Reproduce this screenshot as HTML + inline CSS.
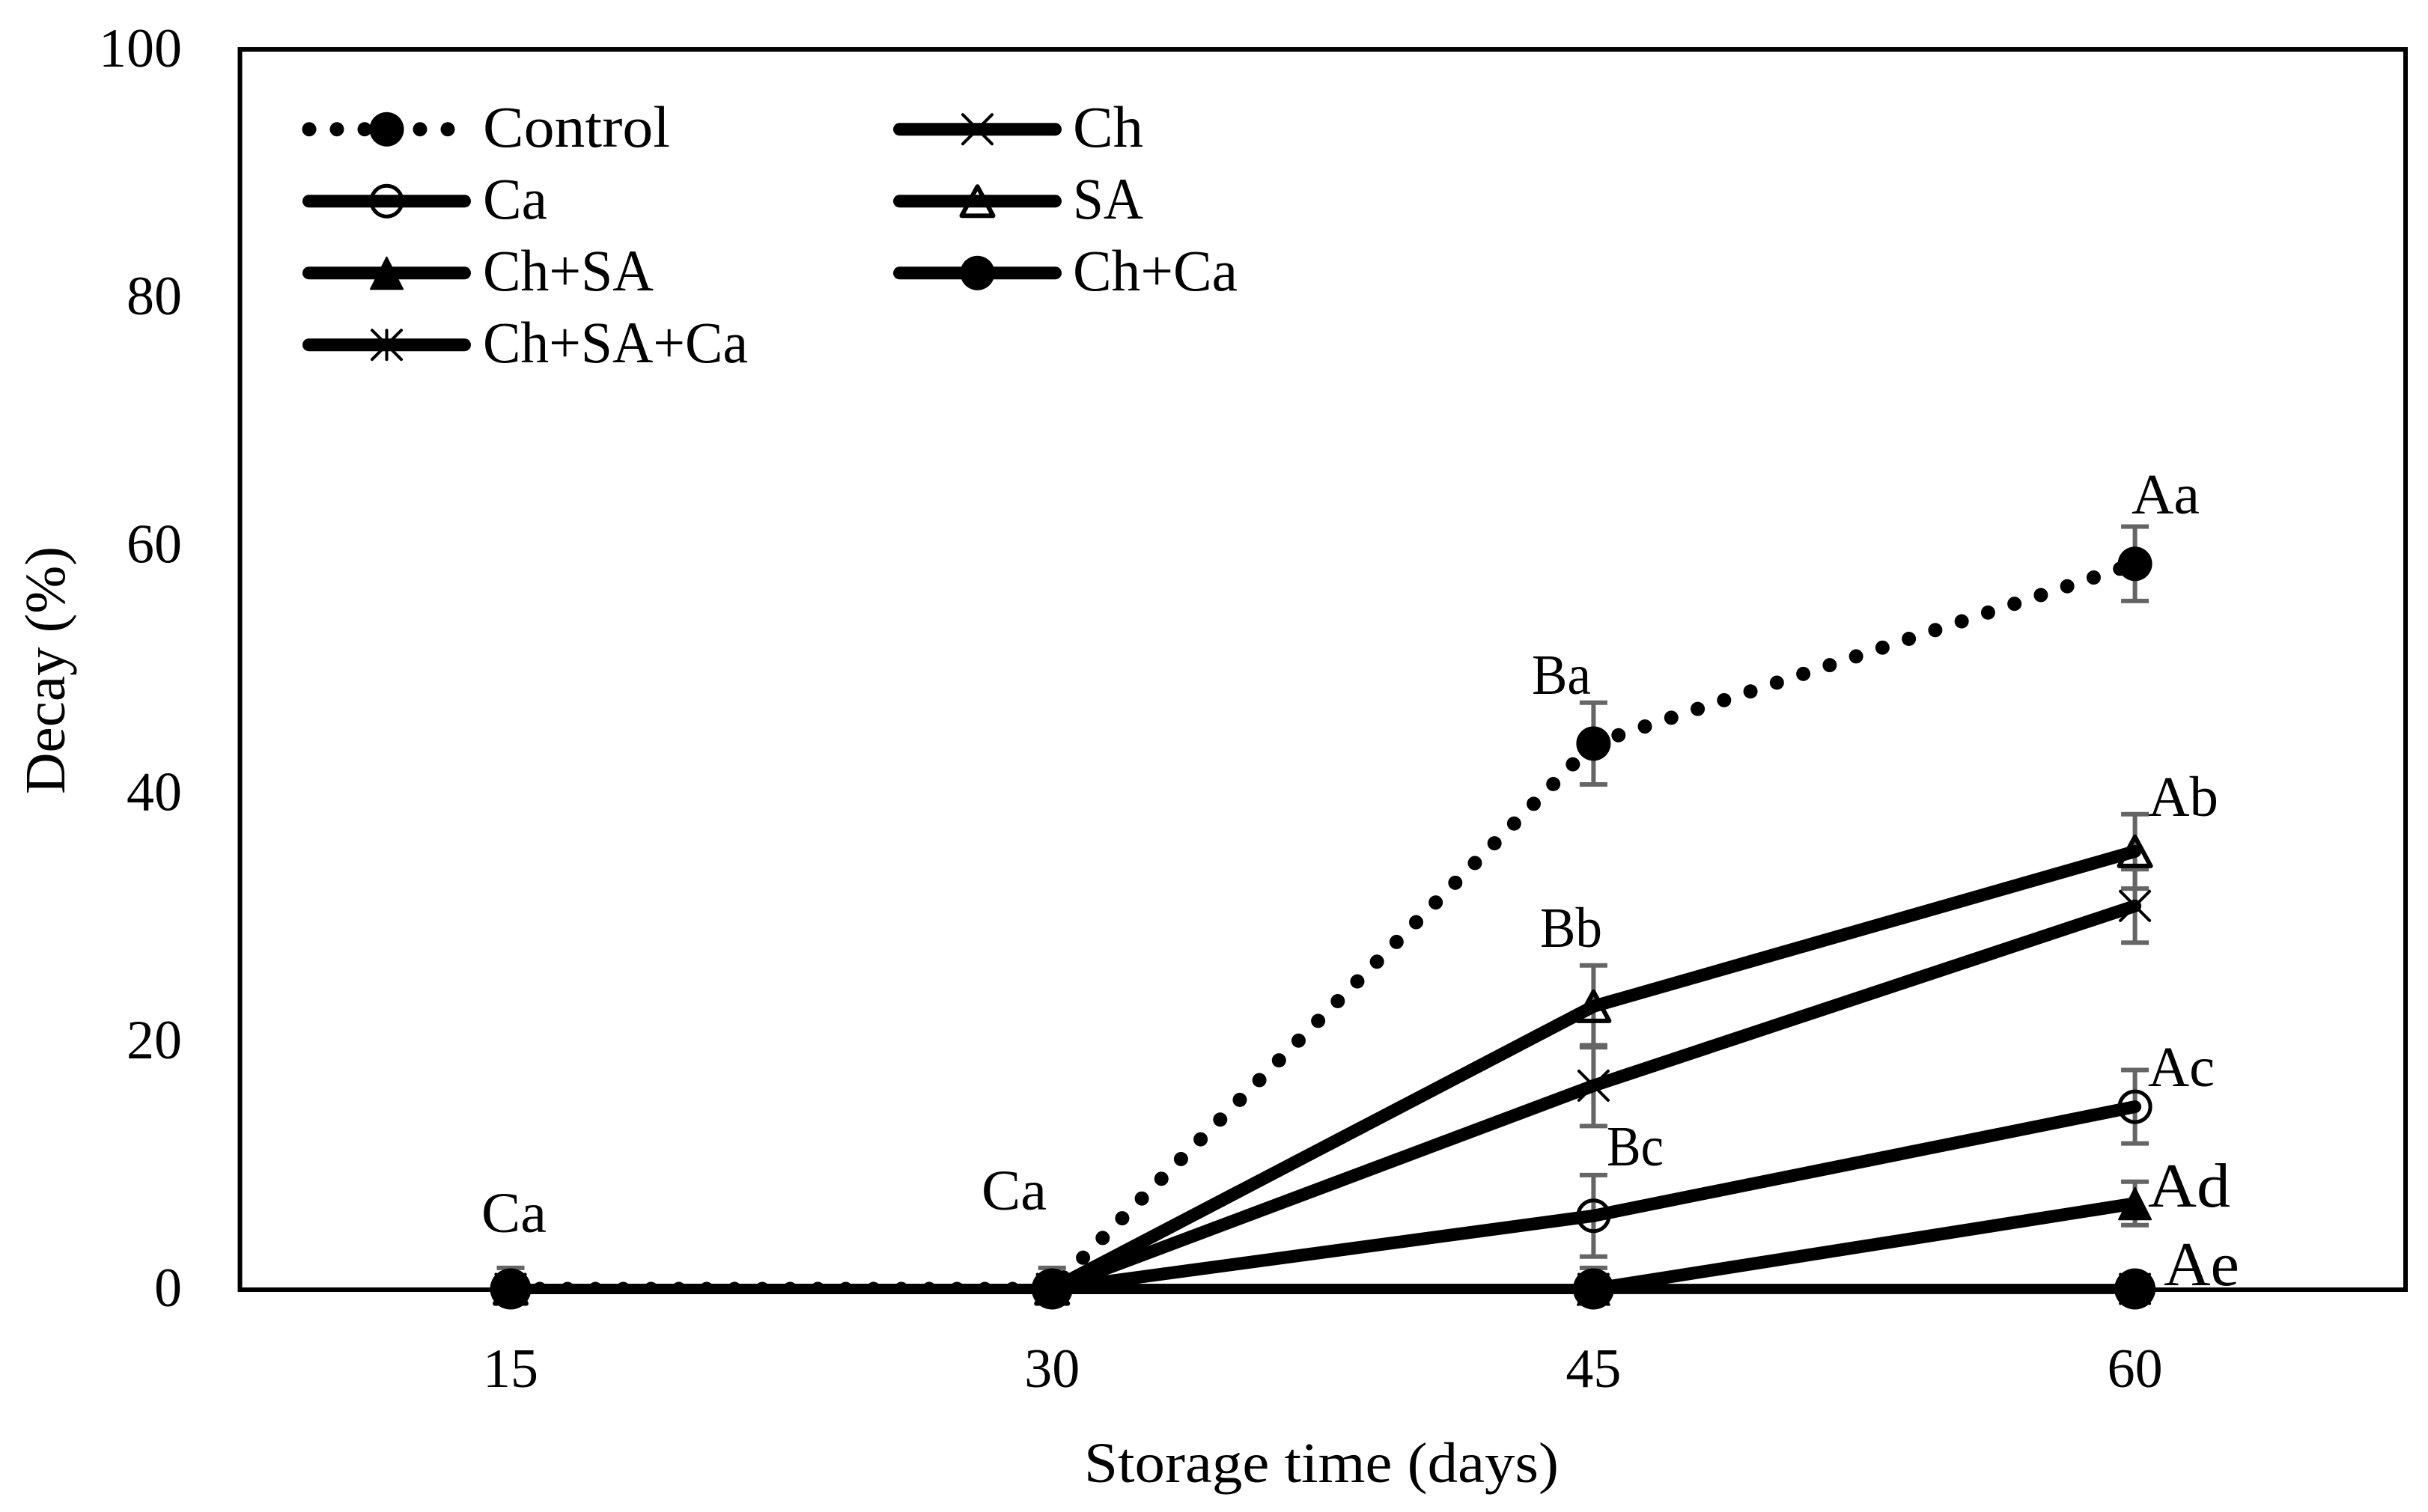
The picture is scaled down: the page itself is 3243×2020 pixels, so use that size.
<!DOCTYPE html>
<html lang="en">
<head>
<meta charset="utf-8">
<title>Decay (%) over storage time</title>
<style>
html,body{margin:0;padding:0;background:#fff;}
#chart{display:block;width:3243px;height:2020px;}
text{font-family:"Liberation Serif",serif;fill:#000;}
</style>
</head>
<body>
<svg id="chart" xmlns="http://www.w3.org/2000/svg" width="3243" height="2020" viewBox="0 0 3243 2020">
  <defs>
    <clipPath id="above-baseline"><rect x="0" y="0" width="3243" height="1722"/></clipPath>
  </defs>
  <rect x="0" y="0" width="3243" height="2020" fill="#fff"/>
  <rect x="320.5" y="66" width="2892.5" height="1657" fill="none" stroke="#000" stroke-width="6"/>
  <g id="y-ticks"></g>
  <g id="x-ticks"></g>
  <g id="errors"></g>
  <g id="series"></g>
  <g id="legend">
    <text x="645" y="196" font-size="78" textLength="250" lengthAdjust="spacingAndGlyphs">Control</text>
    <text x="1433" y="196" font-size="78" textLength="94" lengthAdjust="spacingAndGlyphs">Ch</text>
    <text x="645" y="292" font-size="78" textLength="86" lengthAdjust="spacingAndGlyphs">Ca</text>
    <text x="1433" y="292" font-size="78" textLength="94" lengthAdjust="spacingAndGlyphs">SA</text>
    <text x="645" y="388" font-size="78" textLength="228" lengthAdjust="spacingAndGlyphs">Ch+SA</text>
    <text x="1433" y="388" font-size="78" textLength="220" lengthAdjust="spacingAndGlyphs">Ch+Ca</text>
    <text x="645" y="484" font-size="78" textLength="354" lengthAdjust="spacingAndGlyphs">Ch+SA+Ca</text>
  </g>
  <g id="annotations" font-size="76">
    <text x="643" y="1646" textLength="87" lengthAdjust="spacingAndGlyphs">Ca</text>
    <text x="1311" y="1616" textLength="87" lengthAdjust="spacingAndGlyphs">Ca</text>
    <text x="2046" y="927" textLength="79" lengthAdjust="spacingAndGlyphs">Ba</text>
    <text x="2057" y="1265" textLength="83" lengthAdjust="spacingAndGlyphs">Bb</text>
    <text x="2146" y="1557" textLength="76" lengthAdjust="spacingAndGlyphs">Bc</text>
    <text x="2847" y="686" textLength="91" lengthAdjust="spacingAndGlyphs">Aa</text>
    <text x="2869" y="1090" textLength="94" lengthAdjust="spacingAndGlyphs">Ab</text>
    <text x="2869" y="1451" textLength="89" lengthAdjust="spacingAndGlyphs">Ac</text>
    <text x="2869" y="1612" font-size="84" textLength="110" lengthAdjust="spacingAndGlyphs">Ad</text>
    <text x="2890" y="1717" font-size="84" textLength="101" lengthAdjust="spacingAndGlyphs">Ae</text>
  </g>
  <text x="1448" y="1980" font-size="76" textLength="634" lengthAdjust="spacingAndGlyphs">Storage time (days)</text>
  <text transform="translate(86 1061) rotate(-90)" x="0" y="0" font-size="76" textLength="331" lengthAdjust="spacingAndGlyphs">Decay (%)</text>
</svg>
<script>
const days = ['15', '30', '45', '60'];
const yTickLabels = [0, 20, 40, 60, 80, 100];

const controlValues = [0, 0, 44, 58.5];
const chValues = [0, 0, 16.4, 30.9];
const caValues = [0, 0, 5.9, 14.7];
const saValues = [0, 0, 22.8, 35.3];
const chSaValues = [0, 0, 0, 6.9];
const chCaValues = [0, 0, 0, 0];
const chSaCaValues = [0, 0, 0, 0];

const controlErrors = [1.7, 1.7, 3.3, 3];
const chErrors = [0, 0, 3.26, 2.96];
const caErrors = [0, 0, 3.29, 2.96];
const saErrors = [0, 0, 3.3, 3];
const chSaErrors = [0, 0, 1.7, 1.75];

const SVG_NS = 'http://www.w3.org/2000/svg';
function xScale(i) { return 682 + 723.2 * i; }
function yScale(v) { return 1722 - 16.56 * v; }

function make(parent, tag, attrs) {
  const el = document.createElementNS(SVG_NS, tag);
  for (const k in attrs) el.setAttribute(k, attrs[k]);
  parent.appendChild(el);
  return el;
}

function drawMarker(parent, kind, cx, cy, name) {
  const g = make(parent, 'g', {});
  
  
  if (kind === 'solid-circle') {
    make(g, 'circle', { cx: cx, cy: cy, r: 23, fill: '#000' });
  } else if (kind === 'big-circle') {
    make(g, 'circle', { cx: cx, cy: cy, r: 27.5, fill: '#000' });
  } else if (kind === 'open-circle') {
    make(g, 'circle', { cx: cx, cy: cy, r: 20.5, fill: 'none', stroke: '#000', 'stroke-width': 5 });
  } else if (kind === 'open-triangle') {
    make(g, 'polygon', { points: cx + ',' + (cy - 19.5) + ' ' + (cx + 21) + ',' + (cy + 19.5) + ' ' + (cx - 21) + ',' + (cy + 19.5), fill: 'none', stroke: '#000', 'stroke-width': 6, 'stroke-linejoin': 'round' });
  } else if (kind === 'solid-triangle') {
    make(g, 'polygon', { points: cx + ',' + (cy - 21) + ' ' + (cx + 21.5) + ',' + (cy + 21.5) + ' ' + (cx - 21.5) + ',' + (cy + 21.5), fill: '#000', stroke: '#000', 'stroke-width': 2, 'stroke-linejoin': 'round' });
  } else if (kind === 'cross' || kind === 'star') {
    const r = 19.5;
    make(g, 'line', { x1: cx - r, y1: cy - r, x2: cx + r, y2: cy + r, stroke: '#000', 'stroke-width': 4, 'stroke-linecap': 'round' });
    make(g, 'line', { x1: cx - r, y1: cy + r, x2: cx + r, y2: cy - r, stroke: '#000', 'stroke-width': 4, 'stroke-linecap': 'round' });
    if (kind === 'star') {
      make(g, 'line', { x1: cx, y1: cy - r, x2: cx, y2: cy + r, stroke: '#000', 'stroke-width': 4, 'stroke-linecap': 'round' });
    }
  }
}

const yTicksGroup = document.getElementById('y-ticks');
yTickLabels.forEach(function (t) {
  const el = make(yTicksGroup, 'text', { x: 243, y: yScale(t) + 23, 'font-size': 74, 'text-anchor': 'end' });
  
  
  el.textContent = t;
});

const xTicksGroup = document.getElementById('x-ticks');
days.forEach(function (d, i) {
  const el = make(xTicksGroup, 'text', { x: xScale(i), y: 1853, 'font-size': 74, 'text-anchor': 'middle' });
  
  
  el.textContent = d;
});

const errorGroup = document.getElementById('errors');
function drawErrors(values, errors, name) {
  values.forEach(function (v, i) {
    const e = errors[i];
    if (!e) return;
    const x = xScale(i);
    const capHalf = 18.5;
    const hi = yScale(v + e);
    const lo = yScale(Math.max(v - e, 0));
    const g = make(errorGroup, 'g', { stroke: '#656565' });
    
    
    make(g, 'line', { x1: x, y1: hi, x2: x, y2: lo, 'stroke-width': 6 });
    make(g, 'line', { x1: x - capHalf, y1: hi, x2: x + capHalf, y2: hi, 'stroke-width': 6 });
    if (v - e > 0) {
      make(g, 'line', { x1: x - capHalf, y1: lo, x2: x + capHalf, y2: lo, 'stroke-width': 6 });
    }
  });
}
drawErrors(controlValues, controlErrors, 'control');
drawErrors(saValues, saErrors, 'sa');
drawErrors(chValues, chErrors, 'ch');
drawErrors(caValues, caErrors, 'ca');
drawErrors(chSaValues, chSaErrors, 'ch-sa');

const seriesGroup = document.getElementById('series');
function drawSeries(values, kind, name, dotted) {
  const g = make(seriesGroup, 'g', {});
  
  
  if (dotted) {
    const pts = values.map(function (v, i) { return xScale(i) + ',' + yScale(v); }).join(' ');
    const line = make(g, 'polyline', { points: pts, fill: 'none', stroke: '#000', 'stroke-width': 19, 'stroke-linecap': 'round', 'stroke-dasharray': '0 37.15', 'stroke-dashoffset': 35.35, 'clip-path': 'url(#above-baseline)' });
    
    
  } else {
    for (let i = 0; i < values.length - 1; i++) {
      const flatAtZero = values[i] === 0 && values[i + 1] === 0;
      const seg = make(g, 'line', {
        x1: xScale(i), y1: yScale(values[i]), x2: xScale(i + 1), y2: yScale(values[i + 1]),
        stroke: '#000', 'stroke-width': flatAtZero ? 13.5 : 17, 'stroke-linecap': flatAtZero ? 'butt' : 'round'
      });
      
      
    }
  }
  values.forEach(function (v, i) {
    drawMarker(g, kind, xScale(i), yScale(v), 'point-' + name + '-' + days[i]);
  });
}
drawSeries(controlValues, 'solid-circle', 'control', true);
drawSeries(caValues, 'open-circle', 'ca', false);
drawSeries(saValues, 'open-triangle', 'sa', false);
drawSeries(chValues, 'cross', 'ch', false);
drawSeries(chSaValues, 'solid-triangle', 'ch-sa', false);
drawSeries(chSaCaValues, 'star', 'ch-sa-ca', false);
drawSeries(chCaValues, 'big-circle', 'ch-ca', false);

const legendGroup = document.getElementById('legend');
function drawLegendKey(x1, x2, y, kind, name, dotted) {
  const g = make(legendGroup, 'g', {});
  
  
  if (dotted) {
    make(g, 'line', { x1: x1 + 9, y1: y, x2: x2 - 7, y2: y, stroke: '#000', 'stroke-width': 19, 'stroke-linecap': 'round', 'stroke-dasharray': '0 37' });
  } else {
    make(g, 'line', { x1: x1 + 8.5, y1: y, x2: x2 - 8.5, y2: y, stroke: '#000', 'stroke-width': 17, 'stroke-linecap': 'round' });
  }
  drawMarker(g, kind, (x1 + x2) / 2, y, 'legend-marker-' + name);
}
drawLegendKey(404, 629, 172.7, 'solid-circle', 'control', true);
drawLegendKey(1193, 1418, 172.7, 'cross', 'ch', false);
drawLegendKey(404, 629, 268.7, 'open-circle', 'ca', false);
drawLegendKey(1193, 1418, 268.7, 'open-triangle', 'sa', false);
drawLegendKey(404, 629, 364.7, 'solid-triangle', 'ch-sa', false);
drawLegendKey(1193, 1418, 364.7, 'solid-circle', 'ch-ca', false);
drawLegendKey(404, 629, 460.7, 'star', 'ch-sa-ca', false);
</script>
</body>
</html>
